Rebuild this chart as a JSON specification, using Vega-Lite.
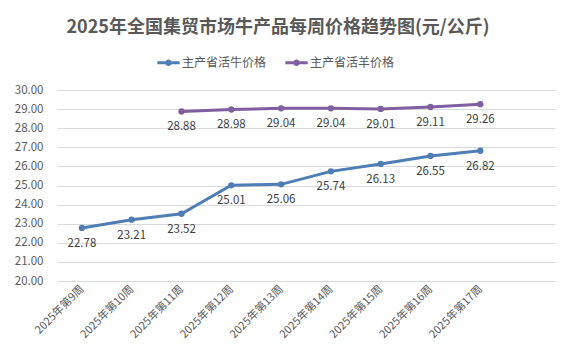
{
  "$schema": "https://vega.github.io/schema/vega-lite/v6.json",
  "autosize": {"type": "none"},
  "padding": {"left": 57, "top": 90, "right": 25, "bottom": 78},
  "width": 498,
  "height": 191,
  "background": "white",
  "config": {
    "font": "Noto Sans CJK SC",
    "view": {"stroke": null}
  },
  "title": {
    "text": "2025年全国集贸市场牛产品每周价格趋势图(元/公斤)",
    "fontSize": 18,
    "fontWeight": "bold",
    "color": "#595959",
    "anchor": "middle",
    "dx": -28,
    "offset": 14
  },
  "data": {
    "values": [
      {"week": "2025年第9周", "series": "主产省活牛价格", "value": 22.78},
      {"week": "2025年第10周", "series": "主产省活牛价格", "value": 23.21},
      {"week": "2025年第11周", "series": "主产省活牛价格", "value": 23.52},
      {"week": "2025年第12周", "series": "主产省活牛价格", "value": 25.01},
      {"week": "2025年第13周", "series": "主产省活牛价格", "value": 25.06},
      {"week": "2025年第14周", "series": "主产省活牛价格", "value": 25.74},
      {"week": "2025年第15周", "series": "主产省活牛价格", "value": 26.13},
      {"week": "2025年第16周", "series": "主产省活牛价格", "value": 26.55},
      {"week": "2025年第17周", "series": "主产省活牛价格", "value": 26.82},
      {"week": "2025年第11周", "series": "主产省活羊价格", "value": 28.88},
      {"week": "2025年第12周", "series": "主产省活羊价格", "value": 28.98},
      {"week": "2025年第13周", "series": "主产省活羊价格", "value": 29.04},
      {"week": "2025年第14周", "series": "主产省活羊价格", "value": 29.04},
      {"week": "2025年第15周", "series": "主产省活羊价格", "value": 29.01},
      {"week": "2025年第16周", "series": "主产省活羊价格", "value": 29.11},
      {"week": "2025年第17周", "series": "主产省活羊价格", "value": 29.26}
    ]
  },
  "encoding": {
    "x": {
      "field": "week",
      "type": "nominal",
      "sort": null,
      "scale": {
        "type": "point",
        "padding": 0.5,
        "domain": ["2025年第9周", "2025年第10周", "2025年第11周", "2025年第12周", "2025年第13周", "2025年第14周", "2025年第15周", "2025年第16周", "2025年第17周", " "]
      },
      "axis": {
        "title": null,
        "labelAngle": -45,
        "labelAlign": "right",
        "labelBaseline": "middle",
        "labelPadding": 6,
        "labelFontSize": 11,
        "labelColor": "#595959",
        "domain": false,
        "ticks": false,
        "grid": false
      }
    },
    "y": {
      "field": "value",
      "type": "quantitative",
      "scale": {"domain": [20, 30], "nice": false, "zero": false},
      "axis": {
        "title": null,
        "values": [20, 21, 22, 23, 24, 25, 26, 27, 28, 29, 30],
        "format": ".2f",
        "labelFontSize": 11.5,
        "labelColor": "#595959",
        "labelPadding": 14,
        "domain": false,
        "ticks": false,
        "gridColor": "#d9d9d9",
        "gridWidth": 1
      }
    },
    "color": {
      "field": "series",
      "type": "nominal",
      "scale": {
        "domain": ["主产省活牛价格", "主产省活羊价格"],
        "range": ["#4f7db5", "#7f5fa0"]
      },
      "legend": {
        "title": null,
        "orient": "none",
        "direction": "horizontal",
        "legendX": 100,
        "legendY": -39,
        "labelFontSize": 12,
        "labelColor": "#595959",
        "symbolType": "M-1,-0.13H1V0.13H-1Z M0.3,0A0.3,0.3 0 1,1 -0.3,0A0.3,0.3 0 1,1 0.3,0Z",
        "symbolSize": 500,
        "symbolStrokeWidth": 0,
        "columnPadding": 18,
        "labelOffset": 2
      }
    }
  },
  "layer": [
    {
      "mark": {"type": "line", "strokeWidth": 3, "point": {"filled": true, "size": 40}}
    },
    {
      "mark": {"type": "text", "dy": 16, "fontSize": 11.5, "color": "#404040"},
      "encoding": {
        "text": {"field": "value", "type": "quantitative", "format": ".2f"},
        "color": {"value": "#404040"}
      }
    }
  ]
}
